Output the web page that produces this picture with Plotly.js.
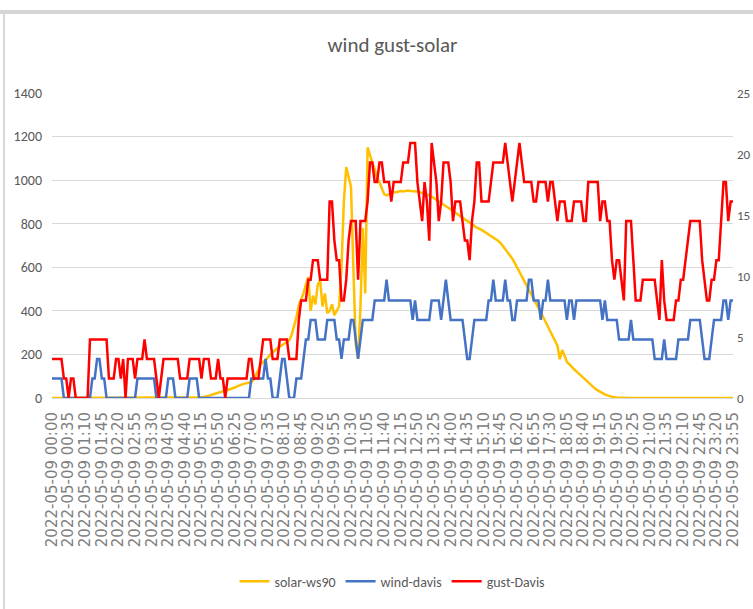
<!DOCTYPE html>
<html>
<head>
<meta charset="utf-8">
<script src="https://cdn.plot.ly/plotly-3.0.1.min.js"></script>
<style>
  html, body { margin: 0; padding: 0; background: #ffffff; }
  #wrap { position: relative; width: 753px; height: 609px; overflow: hidden; }
  #chart { position: absolute; left: 0; top: 0; width: 753px; height: 609px; }
  .frameTop { position: absolute; left: 0; top: 10px; width: 753px; height: 4px; background: #d6d6d6; pointer-events: none; }
  .frameLeft { position: absolute; left: 3px; top: 14px; width: 2px; height: 595px; background: #d9d9d9; pointer-events: none; }
</style>
</head>
<body>
<div id="wrap">
  <div id="chart"></div>
  <div class="frameTop"></div>
  <div class="frameLeft"></div>
</div>
<script>
// ---- categories: 5-minute readings on 2022-05-09 ----
const day = "2022-05-09";
const categories = [];
for (let h = 0; h < 24; h++) {
  for (let m = 0; m < 60; m += 5) {
    categories.push(day + " " + String(h).padStart(2, "0") + ":" + String(m).padStart(2, "0"));
  }
}
// tick labels shown every 35 minutes (every 7th reading)
const tickLabels = categories.filter((c, i) => i % 7 === 0);

const titleText = "wind gust-solar";
const seriesNames = ["solar-ws90", "wind-davis", "gust-Davis"];

// solar radiation (W/m², left axis) – one row per hour
const solarWs90 = [
  0,0,0,0,0,0,0,0,0,0,0,0,
  0,0,0,0,0,0,0,0,0,0,0,0,
  0,0,0,0,0,0,0,0,0,0,0,0,
  0,0,0,0,0,0,0,0,0,0,0,0,
  0,0,0,0,0,0,0,0,0,0,0,0,
  0,1,2,3,5,7,10,13,17,21,25,28,
  31,34,37,40,44,48,53,58,63,66,68,70,
  72,85,105,130,155,165,175,185,200,210,220,228,
  235,243,250,258,265,290,325,370,425,455,480,520,
  555,400,470,430,520,540,420,480,390,400,430,380,
  400,420,600,900,1060,1020,970,600,250,180,420,780,
  480,1150,1110,1080,1050,1010,990,960,935,930,935,940,
  945,945,948,950,948,950,952,950,950,950,948,945,
  942,938,935,930,925,918,910,902,895,888,880,872,
  865,858,850,843,836,828,820,813,806,798,790,782,
  778,772,765,758,752,745,738,730,722,712,698,684,
  670,658,640,620,600,580,560,540,518,497,476,455,
  434,414,393,372,350,330,308,285,263,240,178,220,
  195,165,155,142,132,122,112,102,90,79,69,59,
  49,42,35,28,22,17,12,8,5,3,2,1,
  0,0,0,0,0,0,0,0,0,0,0,0,
  0,0,0,0,0,0,0,0,0,0,0,0,
  0,0,0,0,0,0,0,0,0,0,0,0,
  0,0,0,0,0,0,0,0,0,0,0,0
];

// wind speed (km/h, right axis) – one row per hour
const windDavis = [
  1.6,1.6,1.6,1.6,1.6,0,0,0,0,0,0,0,
  0,0,0,0,0,1.6,1.6,3.2,3.2,1.6,1.6,0,
  0,0,0,0,0,0,0,0,0,0,0,0,
  1.6,1.6,1.6,1.6,1.6,1.6,1.6,1.6,0,0,0,0,
  0,1.6,1.6,1.6,0,0,0,0,0,0,1.6,1.6,
  1.6,1.6,0,0,0,0,0,0,0,0,0,0,
  0,0,0,0,0,0,0,0,0,0,0,0,
  1.6,1.6,1.6,1.6,1.6,1.6,3.2,1.6,1.6,0,0,0,
  1.6,3.2,3.2,1.6,0,0,0,1.6,1.6,1.6,3.2,4.8,
  4.8,6.4,6.4,6.4,4.8,4.8,4.8,4.8,6.4,6.4,6.4,6.4,
  4.8,4.8,3.2,4.8,4.8,4.8,6.4,6.4,4.8,3.2,4.8,6.4,
  6.4,6.4,6.4,6.4,8,8,8,8,8,9.7,8,8,
  8,8,8,8,8,8,8,8,6.4,8,6.4,6.4,
  6.4,6.4,6.4,6.4,8,8,8,8,6.4,8,9.7,8,
  6.4,6.4,6.4,6.4,6.4,6.4,4.8,3.2,3.2,4.8,6.4,6.4,
  6.4,6.4,6.4,6.4,8,8,9.7,8,8,8,8,9.7,
  8,8,6.4,6.4,8,8,8,8,8,9.7,9.7,8,
  8,8,6.4,8,8,9.7,8,8,8,8,8,8,
  8,6.4,8,8,6.4,8,8,8,8,8,8,8,
  8,8,8,8,6.4,8,6.4,6.4,6.4,6.4,6.4,4.8,
  4.8,4.8,4.8,4.8,6.4,4.8,4.8,4.8,4.8,4.8,4.8,4.8,
  4.8,4.8,3.2,3.2,3.2,3.2,4.8,3.2,3.2,3.2,3.2,3.2,
  4.8,4.8,4.8,4.8,4.8,6.4,6.4,6.4,6.4,6.4,4.8,3.2,
  3.2,3.2,4.8,6.4,6.4,6.4,6.4,8,8,6.4,8,8
];

// wind gust (km/h, right axis) – one row per hour
const gustDavis = [
  3.2,3.2,3.2,3.2,3.2,1.6,1.6,0,1.6,1.6,0,0,
  0,0,0,0,4.8,4.8,4.8,4.8,4.8,4.8,4.8,4.8,
  1.6,1.6,1.6,3.2,3.2,1.6,3.2,0,3.2,3.2,3.2,1.6,
  3.2,3.2,3.2,4.8,3.2,3.2,3.2,3.2,1.6,0,1.6,3.2,
  3.2,3.2,3.2,3.2,3.2,3.2,1.6,1.6,1.6,1.6,3.2,3.2,
  3.2,3.2,3.2,1.6,3.2,3.2,3.2,1.6,1.6,1.6,3.2,1.6,
  1.6,0,1.6,1.6,1.6,1.6,1.6,1.6,1.6,1.6,1.6,3.2,
  3.2,1.6,1.6,1.6,3.2,4.8,4.8,4.8,4.8,3.2,3.2,3.2,
  4.8,4.8,4.8,4.8,3.2,3.2,3.2,3.2,6.4,8,8,8,
  9.7,9.7,11.3,11.3,11.3,9.7,9.7,9.7,9.7,16.1,16.1,12.9,
  11.3,11.3,8,8,9.7,12.9,14.5,14.5,14.5,9.7,14.5,14.5,
  14.5,16.1,19.3,19.3,17.7,17.7,19.3,19.3,17.7,17.7,17.7,16.1,
  17.7,17.7,17.7,17.7,19.3,19.3,19.3,20.9,20.9,20.9,17.7,16.1,
  14.5,17.7,16.1,12.9,20.9,19.3,17.7,14.5,16.1,19.3,19.3,19.3,
  17.7,14.5,16.1,16.1,16.1,14.5,12.9,12.9,11.3,14.5,16.1,19.3,
  19.3,16.1,16.1,16.1,16.1,17.7,19.3,19.3,19.3,19.3,19.3,20.9,
  19.3,17.7,16.1,17.7,19.3,20.9,19.3,17.7,17.7,17.7,17.7,16.1,
  16.1,17.7,17.7,17.7,17.7,16.1,17.7,17.7,16.1,14.5,16.1,16.1,
  16.1,14.5,14.5,14.5,16.1,16.1,16.1,16.1,14.5,14.5,17.7,17.7,
  17.7,17.7,17.7,14.5,16.1,16.1,14.5,14.5,11.3,9.7,11.3,11.3,
  9.7,8,14.5,14.5,14.5,11.3,8,8,8,9.7,9.7,9.7,
  9.7,9.7,9.7,8,6.4,11.3,8,6.4,6.4,6.4,6.4,8,
  8,9.7,9.7,11.3,12.9,14.5,14.5,14.5,14.5,14.5,11.3,9.7,
  8,8,9.7,9.7,11.3,11.3,14.5,17.7,17.7,14.5,16.1,16.1
];

const leftTicks = [0, 200, 400, 600, 800, 1000, 1200, 1400];
const rightTicks = [0, 5, 10, 15, 20, 25];

const uiFont = "Carlito, 'Liberation Sans Narrow', Lato, 'Open Sans', sans-serif";
const gray = "#595959";

const traces = [
  { x: categories, y: solarWs90, name: seriesNames[0], type: "scatter", mode: "lines",
    line: { color: "#FFC000", width: 2.5 }, yaxis: "y" },
  { x: categories, y: windDavis, name: seriesNames[1], type: "scatter", mode: "lines",
    line: { color: "#4472C4", width: 2.5 }, yaxis: "y2" },
  { x: categories, y: gustDavis, name: seriesNames[2], type: "scatter", mode: "lines",
    line: { color: "#FF0000", width: 2.5 }, yaxis: "y2" }
];

const layout = {
  width: 753, height: 609, autosize: false,
  margin: { l: 52, r: 20, t: 93, b: 207 },
  paper_bgcolor: "#ffffff", plot_bgcolor: "#ffffff",
  title: { text: titleText, x: 0.5, xref: "paper", xanchor: "center",
           y: 0.926, yref: "container", yanchor: "middle",
           font: { family: uiFont, size: 21, color: gray } },
  showlegend: true,
  legend: { orientation: "h", x: 0.5, xanchor: "center", y: -0.602, yanchor: "middle",
            font: { family: uiFont, size: 14, color: gray }, itemwidth: 30 },
  hovermode: false,
  xaxis: {
    type: "category", range: [0, categories.length - 1],
    tickmode: "array", tickvals: tickLabels, ticktext: tickLabels,
    tickangle: -90, ticks: "", showgrid: false, zeroline: false,
    showline: true, linecolor: "#d9d9d9", linewidth: 1,
    ticklabelstandoff: 7,
    tickfont: { family: "'DejaVu Sans', sans-serif", size: 15, color: "#808080" }
  },
  yaxis: {
    range: [0, 1400], tickmode: "array", tickvals: leftTicks,
    showgrid: true, gridcolor: "#d9d9d9", gridwidth: 1, zeroline: false,
    showline: false, ticks: "", ticklabelstandoff: 9,
    tickfont: { family: uiFont, size: 14, color: gray }
  },
  yaxis2: {
    range: [0, 25], tickmode: "array", tickvals: rightTicks,
    overlaying: "y", side: "right", showgrid: false, zeroline: false,
    showline: false, ticks: "", ticklabelstandoff: 3,
    tickfont: { family: uiFont, size: 13, color: gray }
  }
};

Plotly.newPlot("chart", traces, layout, { displayModeBar: false, staticPlot: true });
</script>
</body>
</html>
